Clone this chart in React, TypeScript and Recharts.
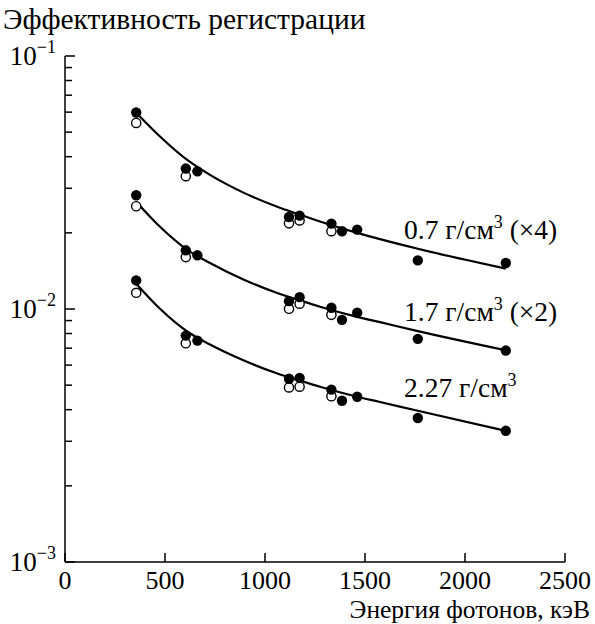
import { ComposedChart, Line, Scatter, XAxis, YAxis } from "recharts";

const FONT = "Liberation Serif, Times New Roman, serif";

// measured energies (keV)
const energies = [356, 604, 662, 1120, 1173, 1332, 1385, 1461, 1764, 2204];
const openEnergies = [356, 604, 1120, 1173, 1332];

// 0.7 g/cm3 (x4)
const lowFilled = [0.0598, 0.0359, 0.035, 0.0231, 0.0234, 0.02175, 0.0203, 0.0206, 0.01556, 0.0152];
const lowOpen = [0.0544, 0.0335, 0.0218, 0.0224, 0.0203];

// 1.7 g/cm3 (x2)
const midFilled = [0.02815, 0.01706, 0.0163, 0.01074, 0.01114, 0.01011, 0.00906, 0.00966, 0.00762, 0.00685];
const midOpen = [0.02547, 0.01604, 0.01002, 0.0105, 0.00948];

// 2.27 g/cm3
const highFilled = [0.01297, 0.00785, 0.0075, 0.0053, 0.00534, 0.0048, 0.00434, 0.0045, 0.00371, 0.0033];
const highOpen = [0.01159, 0.00732, 0.0049, 0.00493, 0.00452];

// fitted curves
const curveE = [356, 475, 613, 725, 892, 1058, 1178, 1275, 1461, 1575, 1764, 2204];
const lowCurve = [0.0597, 0.04808, 0.03873, 0.03388, 0.02884, 0.02541, 0.02355, 0.02218, 0.02, 0.01888, 0.0173, 0.01445];
const midCurve = [0.02655, 0.02113, 0.0171, 0.01521, 0.01309, 0.01159, 0.01079, 0.01021, 0.00931, 0.00887, 0.00818, 0.00687];
const highCurve = [0.01259, 0.01002, 0.00813, 0.00724, 0.00627, 0.00557, 0.0052, 0.00493, 0.0045, 0.00429, 0.00396, 0.0033];

const xTicks = [0, 500, 1000, 1500, 2000, 2500];
const yTicks = [
  0.001, 0.002, 0.003, 0.004, 0.005, 0.006, 0.007, 0.008, 0.009,
  0.01, 0.02, 0.03, 0.04, 0.05, 0.06, 0.07, 0.08, 0.09, 0.1,
];

const pts = (xs: number[], ys: number[]) => xs.map((e, i) => ({ e, v: ys[i] }));

const XTick = ({ x, y, payload }: any) => (
  <g>
    <line x1={x} y1={y} x2={x} y2={y - 9} stroke="#000" strokeWidth={1.5} />
    <text x={x} y={y + 27} textAnchor="middle" fontSize={26} fontFamily={FONT} fill="#000">
      {payload.value}
    </text>
  </g>
);

const YTick = ({ x, y, payload }: any) => {
  const lg = Math.log10(payload.value);
  const exp = Math.round(lg);
  const major = Math.abs(lg - exp) < 1e-6;
  return (
    <g>
      <line x1={x} y1={y} x2={x + (major ? 10 : 7)} y2={y} stroke="#000" strokeWidth={1.5} />
      {major && (
        <text x={x - 9} y={y + 9} textAnchor="end" fontSize={27} fontFamily={FONT} fill="#000">
          10
          <tspan dy={-12} fontSize={18}>
            {"\u2212" + -exp}
          </tspan>
        </text>
      )}
    </g>
  );
};

const Filled = ({ cx, cy }: any) => <circle cx={cx} cy={cy} r={5.2} fill="#000" />;
const Open = ({ cx, cy }: any) => (
  <circle cx={cx} cy={cy} r={4.6} fill="#fff" stroke="#000" strokeWidth={1.4} />
);

const CurveLabel = ({ x, y, text, suffix }: { x: number; y: number; text: string; suffix: string }) => (
  <text x={x} y={y} fontSize={27.5} fontFamily={FONT} fill="#000">
    {text}
    <tspan dy={-11} fontSize={18}>
      3
    </tspan>
    <tspan dy={11}>{suffix}</tspan>
  </text>
);

export default function App() {
  const groups = [
    { curve: pts(curveE, lowCurve), filled: pts(energies, lowFilled), open: pts(openEnergies, lowOpen) },
    { curve: pts(curveE, midCurve), filled: pts(energies, midFilled), open: pts(openEnergies, midOpen) },
    { curve: pts(curveE, highCurve), filled: pts(energies, highFilled), open: pts(openEnergies, highOpen) },
  ];

  return (
    <div style={{ position: "absolute", left: 0, top: 0, width: 595, height: 624, background: "#fff" }}>
      <ComposedChart width={595} height={624} margin={{ top: 56, right: 30, bottom: 0, left: 0 }}>
        <XAxis
          type="number"
          dataKey="e"
          domain={[0, 2500]}
          ticks={xTicks}
          height={62}
          tickSize={0}
          tickMargin={0}
          tickLine={false}
          tick={<XTick />}
          axisLine={{ stroke: "#000", strokeWidth: 1.5 }}
          interval={0}
        />
        <YAxis
          type="number"
          dataKey="v"
          scale="log"
          domain={[0.001, 0.1]}
          allowDataOverflow
          ticks={yTicks}
          width={65}
          tickSize={0}
          tickMargin={0}
          tickLine={false}
          tick={<YTick />}
          axisLine={{ stroke: "#000", strokeWidth: 1.5 }}
          interval={0}
        />
        {groups.map((g, i) => (
          <Scatter key={"o" + i} data={g.open} dataKey="v" shape={<Open />} isAnimationActive={false} />
        ))}
        {groups.map((g, i) => (
          <Line
            key={"l" + i}
            data={g.curve}
            dataKey="v"
            type="monotone"
            stroke="#000"
            strokeWidth={2.2}
            dot={false}
            activeDot={false}
            isAnimationActive={false}
          />
        ))}
        {groups.map((g, i) => (
          <Scatter key={"f" + i} data={g.filled} dataKey="v" shape={<Filled />} isAnimationActive={false} />
        ))}
      </ComposedChart>
      <svg
        width={595}
        height={624}
        style={{ position: "absolute", left: 0, top: 0, pointerEvents: "none" }}
      >
        <text x={3} y={29} fontSize={29.5} fontFamily={FONT} fill="#000">
          Эффективность регистрации
        </text>
        <text x={590} y={618} textAnchor="end" fontSize={25.5} fontFamily={FONT} fill="#000">
          Энергия фотонов, кэВ
        </text>
        <CurveLabel x={404} y={239} text="0.7 г/см" suffix=" (×4)" />
        <CurveLabel x={404} y={321} text="1.7 г/см" suffix=" (×2)" />
        <CurveLabel x={404} y={397} text="2.27 г/см" suffix="" />
      </svg>
    </div>
  );
}
